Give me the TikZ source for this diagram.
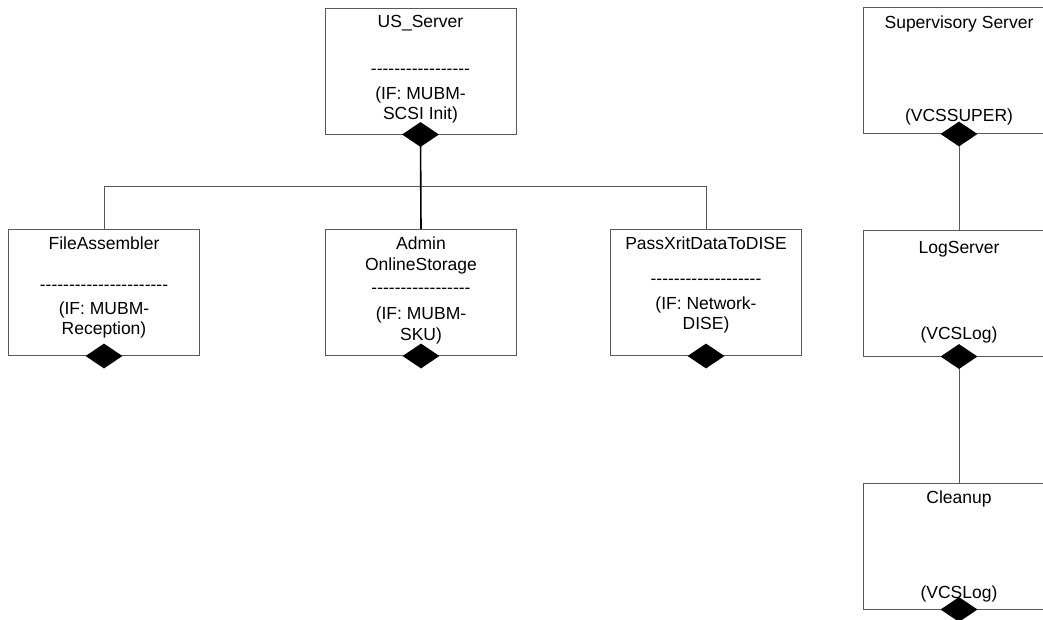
\documentclass[tikz,border=0pt]{standalone}
\usepackage{fontspec}
\setmainfont{Liberation Sans}[Ligatures=TeXOff]
\usetikzlibrary{shapes.geometric,positioning}

\begin{document}
\begin{tikzpicture}[x=1pt,y=-1pt,
    box/.style={draw=black!65,line width=1pt,minimum width=191pt,minimum height=126pt,inner sep=0pt},
    txt/.style={align=center,anchor=base,inner sep=0pt,font=\fontsize{17.5}{20}\selectfont},
    agg/.style={diamond,fill=black,inner sep=0pt,minimum width=37pt,minimum height=25pt},
    link/.style={draw=black!65,line width=1pt},
    trunk/.style={draw=black,line width=1.6pt}]

    \clip (0,0) rectangle (1043,619);

    \node[box] (us-server) at (420.5,71) {};
    \node[box] (file-asm)  at (104,292.5) {};
    \node[box] (admin)     at (421,292.5) {};
    \node[box] (pass-xrit) at (706,292.5) {};
    \node[box] (super)     at (959,70.5) {};
    \node[box] (log-srv)   at (959,293) {};
    \node[box] (cleanup)   at (959,546) {};

    \node[txt] (us-server-t) at (420.5,119.3) {US\_Server\\[27pt]-----------------\\[5pt](IF: MUBM-\\SCSI Init)};
    \node[txt] (file-asm-t)  at (104,334.3) {FileAssembler\\[21pt]----------------------\\[4pt](IF: MUBM-\\Reception)};
    \node[txt] (admin-t)     at (421,340.3) {Admin\\[1pt]OnlineStorage\\[3pt]-----------------\\[6pt](IF: MUBM-\\[1pt]SKU)};
    \node[txt] (pass-xrit-t) at (706,329.3) {PassXritDataToDISE\\[15pt]-------------------\\[5pt](IF: Network-\\DISE)};
    \node[txt] (super-t)     at (959,121.3) {Supervisory Server\\[73pt](VCSSUPER)};
    \node[txt] (log-srv-t)   at (959,339.3) {LogServer\\[66pt](VCSLog)};
    \node[txt] (cleanup-t)   at (959,598.3) {Cleanup\\[75pt](VCSLog)};

    \draw[link] (file-asm.north) -- ++(0,-43) -| (pass-xrit.north);
    \draw[link] (super.south) -- (log-srv.north);
    \draw[link] (log-srv.south) -- (cleanup.north);
    \draw[trunk] (us-server.south) -- (admin.north);

    \node[agg] (us-server-d) at (us-server.south) {};
    \node[agg] (file-asm-d)  at (file-asm.south) {};
    \node[agg] (admin-d)     at (admin.south) {};
    \node[agg] (pass-xrit-d) at (pass-xrit.south) {};
    \node[agg] (super-d)     at (super.south) {};
    \node[agg] (log-srv-d)   at (log-srv.south) {};
    \node[agg] (cleanup-d)   at (cleanup.south) {};

\end{tikzpicture}
\end{document}
